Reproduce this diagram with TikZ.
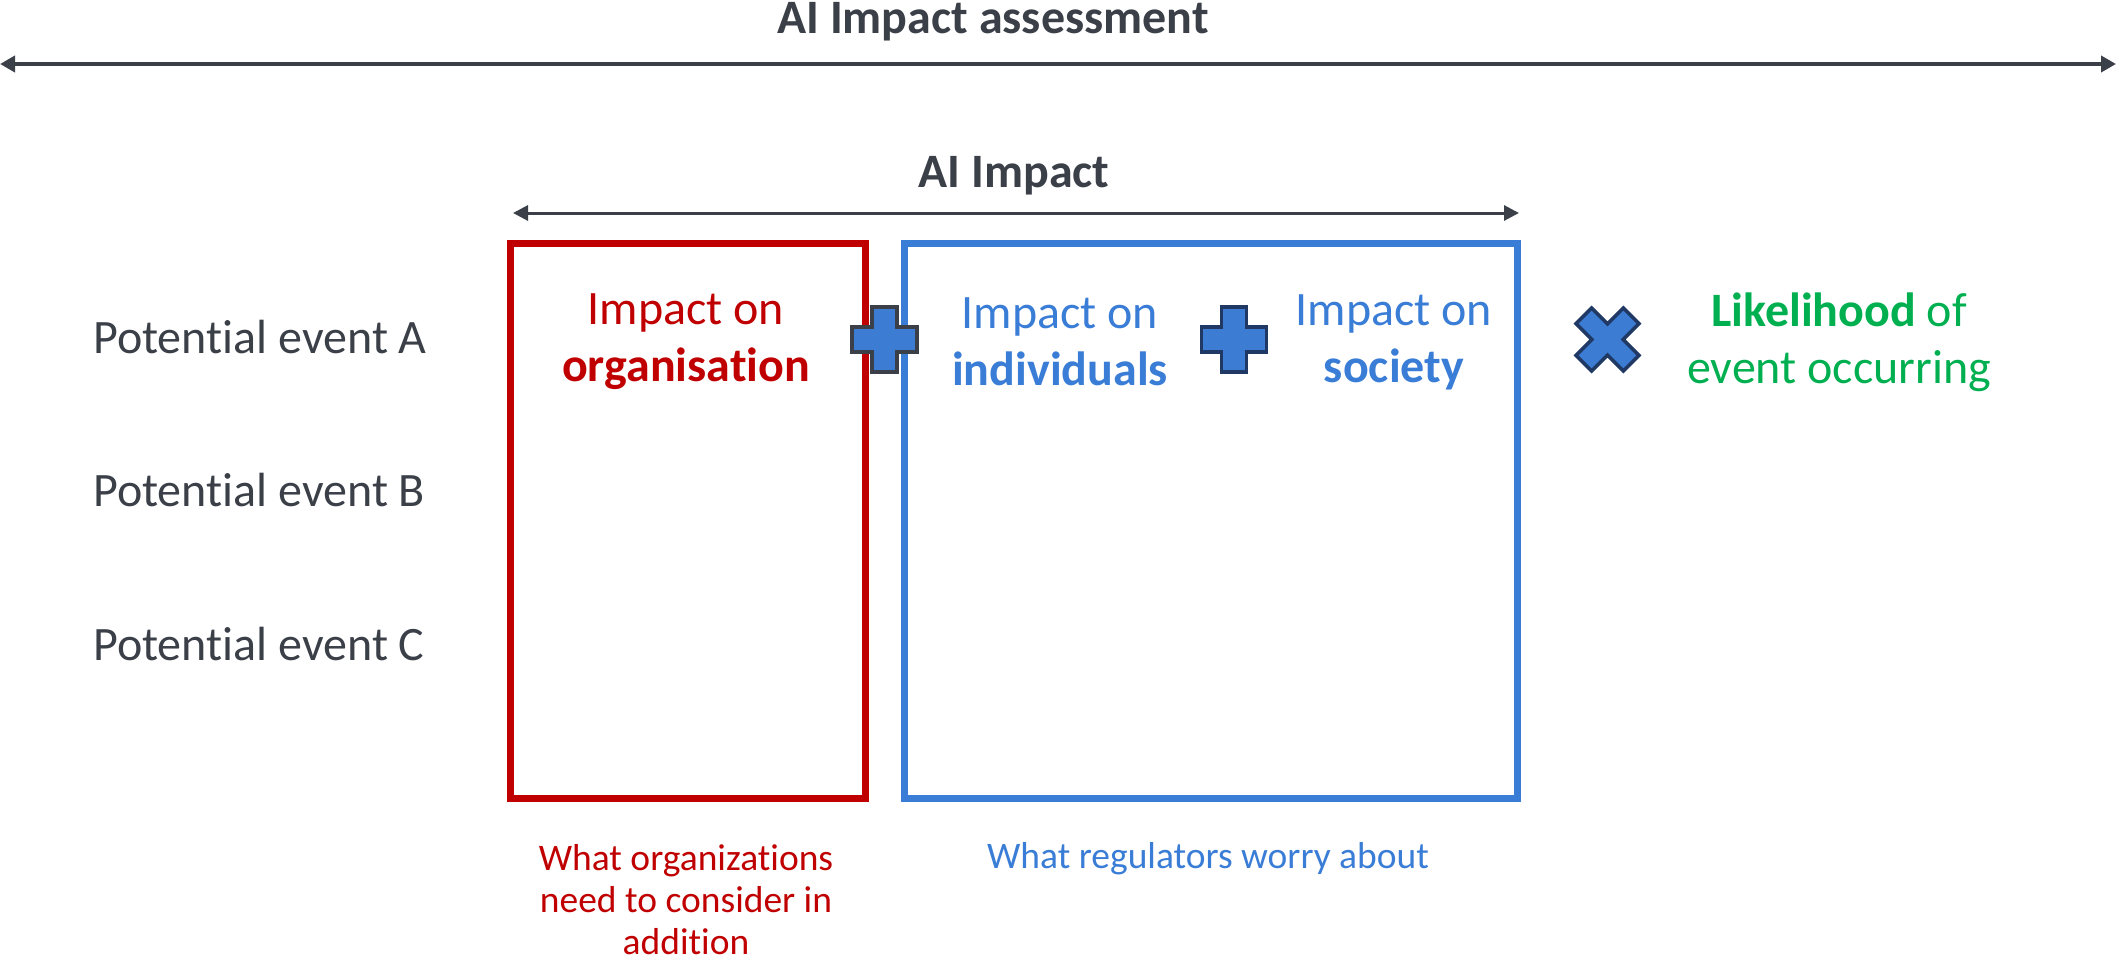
\documentclass[tikz,border=0pt]{standalone}
\usepackage{fontspec}
\setmainfont{Carlito}[Ligatures={NoCommon,NoRare}]
\usetikzlibrary{arrows.meta}
\definecolor{dk}{HTML}{3B4048}
\definecolor{rd}{HTML}{C00000}
\definecolor{bl}{HTML}{3A7DD6}
\definecolor{gr}{HTML}{00B050}
\definecolor{nv}{HTML}{1F3864}
\definecolor{pf}{HTML}{3C7DD3}
\tikzset{
  big/.style={font=\fontsize{48}{57}\selectfont, align=center, inner sep=0pt},
  small/.style={font=\fontsize{37.5}{42}\selectfont, align=center, inner sep=0pt},
  dimarrow/.style={draw=dk, line width=#1, {Triangle[length=15pt,width=16pt]}-{Triangle[length=15pt,width=16pt]}},
  boxframe/.style={draw=#1, line width=7pt, inner sep=0pt},
  plussign/.pic={\draw[fill=pf, line width=3.5pt, draw=\pgfkeysvalueof{/tikz/signcolor}]
     (-12.5,-32.5) -- (12.5,-32.5) -- (12.5,-12.5) -- (32.5,-12.5) -- (32.5,12.5) -- (12.5,12.5)
     -- (12.5,32.5) -- (-12.5,32.5) -- (-12.5,12.5) -- (-32.5,12.5) -- (-32.5,-12.5) -- (-12.5,-12.5) -- cycle;},
  crosssign/.pic={\draw[fill=pf, line width=3.5pt, draw=nv, rotate=45]
     (-11,-33.5) -- (11,-33.5) -- (11,-11) -- (33.5,-11) -- (33.5,11) -- (11,11)
     -- (11,33.5) -- (-11,33.5) -- (-11,11) -- (-33.5,11) -- (-33.5,-11) -- (-11,-11) -- cycle;},
  signcolor/.initial=nv
}
\begin{document}
\begin{tikzpicture}[x=1pt,y=-1pt]
\useasboundingbox (0,0) rectangle (2117,961);

% top dimension arrow
\node[big, text=dk, font=\fontsize{48}{57}\selectfont\bfseries] (t1) at (993,22) {AI Impact assessment};
\coordinate (a1l) at (0,64);
\coordinate (a1r) at (2116,64);
\draw[dimarrow=4pt] (a1l) -- (a1r);

% AI impact arrow
\node[big, text=dk, font=\fontsize{48}{57}\selectfont\bfseries] (t2) at (1014,176) {AI Impact};
\coordinate (a2l) at (513,213);
\coordinate (a2r) at (1519,213);
\draw[draw=dk, line width=3pt, {Triangle[length=15pt,width=15pt]}-{Triangle[length=15pt,width=15pt]}] (a2l) -- (a2r);

% boxes
\node[boxframe=rd, minimum width=355pt, minimum height=555pt] (rbox) at (688,521) {};
\node[boxframe=bl, minimum width=613pt, minimum height=555pt] (bbox) at (1211,521) {};

% events
\node[big, text=dk, anchor=west] (ea) at (93,337) {Potential event A};
\node[big, text=dk, anchor=west] (eb) at (93,490) {Potential event B};
\node[big, text=dk, anchor=west] (ec) at (93,644) {Potential event C};

% headings
\node[big, text=rd] (org) at (686,342) {Impact on\\\textbf{organisation}};
\node[big, text=bl] (ind) at (1060,342) {Impact on\\\textbf{individuals}};
\node[big, text=bl] (soc) at (1394,342) {Impact on\\\textbf{society}};
\node[big, text=gr] (lik) at (1839,342) {\textbf{Likelihood} of\\event occurring};

% operators
\begingroup
\tikzset{signcolor=dk}
\pic at (884.5,339.5) {plussign};
\endgroup
\pic at (1234,339.5) {plussign};
\pic at (1607.5,339.5) {crosssign};

% captions
\node[small, text=rd] (corg) at (686,900) {What organizations\\need to consider in\\addition};
\node[small, text=bl] (creg) at (1208,859) {What regulators worry about};
\end{tikzpicture}
\end{document}
